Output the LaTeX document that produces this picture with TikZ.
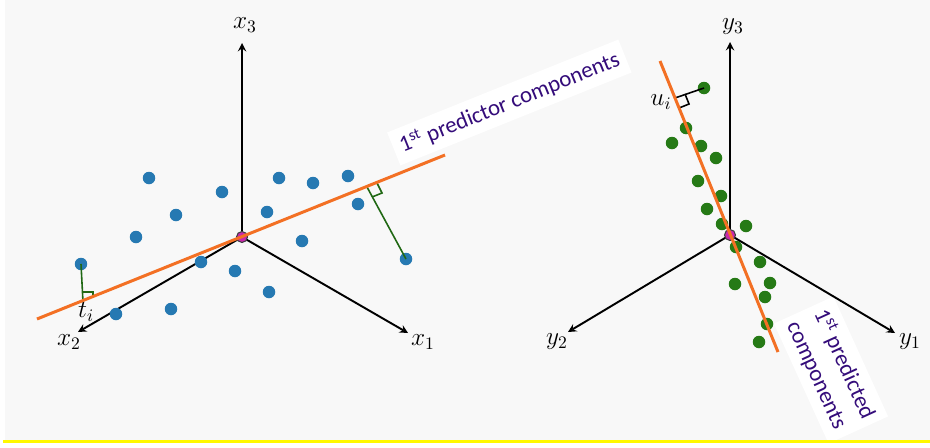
\documentclass[tikz,border=0pt]{standalone}
\usepackage{amsmath}
\usepackage{xcolor}
\usepackage{fontspec}
\usepackage{tikz}
\usetikzlibrary{calc, positioning}

\newfontfamily\labelfont{Carlito}

\definecolor{bggray}{RGB}{248,248,248}
\definecolor{pcablue}{RGB}{38,121,178}
\definecolor{pcagreen}{RGB}{38,122,22}
\definecolor{pcaorange}{RGB}{243,112,36}
\definecolor{labelink}{RGB}{52,12,122}
\definecolor{originpink}{RGB}{200,40,170}
\definecolor{hiyellow}{RGB}{255,248,0}

\tikzset{
  axisarrow/.style={->, line width=1.1pt},
  bdot/.style={circle, fill=pcablue, inner sep=0pt, minimum size=0.25cm},
  gdot/.style={circle, fill=pcagreen, inner sep=0pt, minimum size=0.25cm},
  odot/.style={circle, fill=originpink, draw=black!75, line width=0.6pt, inner sep=0pt, minimum size=0.22cm},
  pcline/.style={pcaorange, line width=1.7pt},
  projline/.style={pcagreen!85!black, line width=0.9pt},
  axlabel/.style={inner sep=1pt, font=\fontsize{14}{17}\selectfont},
  complabel/.style={fill=white, text=labelink, inner sep=4pt,
                    font=\labelfont\fontsize{13}{17}\selectfont}
}

\begin{document}
\begin{tikzpicture}[>=stealth, x=0.02cm, y=-0.02cm]

    % =================================================================
    % 0. NỀN
    % =================================================================
    \fill[white] (0,0) rectangle (930,447);
    \fill[bggray] (5,0) rectangle (930,440);
    \useasboundingbox (0,0) rectangle (930,447);

    % =================================================================
    % 1. HỆ TRỤC x1 x2 x3 (bên trái)
    % =================================================================
    \coordinate (O1) at (242,237);
    \coordinate (X1) at (408,333);
    \coordinate (X2) at (78,332);
    \coordinate (X3) at (242,43);
    \draw[axisarrow] (O1) -- (X1);
    \draw[axisarrow] (O1) -- (X2);
    \draw[axisarrow] (O1) -- (X3);
    \node[axlabel] (lx1) at (423,342) {$x_1$};
    \node[axlabel] (lx2) at (69,342) {$x_2$};
    \node[axlabel] (lx3) at (245,25) {$x_3$};

    % các điểm dữ liệu
    \foreach \px/\py [count=\k] in {149/178, 222/192, 279/178, 313/183, 348/176,
        176/215, 267/212, 358/204, 136/237, 302/241, 201/262, 235/271,
        269/292, 171/309, 116/314}
        \node[bdot] (b\k) at (\px,\py) {};
    \node[bdot] (bt) at (81,264) {};
    \node[bdot] (bf) at (406,259) {};

    % hình chiếu lên thành phần thứ nhất
    \coordinate (Ft) at (83,302);
    \coordinate (Ff) at (367,187);
    \draw[projline] (bt.center) -- (Ft);
    \draw[projline] (82,292) -- (93,292) -- (93,298);
    \draw[projline] (bf.center) -- (Ff);
    \draw[projline] (377,183) -- (382,193) -- (372,197);
    \node[axlabel] (lti) at (86,312) {$t_i$};

    % gốc và đường thành phần
    \node[odot] (o1) at (O1) {};
    \coordinate (P1a) at (37,319);
    \coordinate (P1b) at (445,155);
    \draw[pcline] (P1a) -- (P1b);
    \node[complabel, rotate=21.9, anchor=base] (predlbl) at (512,109)
        {1\textsuperscript{st} predictor components};

    % =================================================================
    % 2. HỆ TRỤC y1 y2 y3 (bên phải)
    % =================================================================
    \node[complabel, rotate=-65.5, align=left] (resplbl) at (831,370)
        {1\textsuperscript{st} predicted\\components};

    \coordinate (O2) at (730,235);
    \coordinate (Y1) at (895,333);
    \coordinate (Y2) at (568,332);
    \coordinate (Y3) at (730,42);
    \draw[axisarrow] (O2) -- (Y1);
    \draw[axisarrow] (O2) -- (Y2);
    \draw[axisarrow] (O2) -- (Y3);
    \node[axlabel] (ly1) at (910,342) {$y_1$};
    \node[axlabel] (ly2) at (557,342) {$y_2$};
    \node[axlabel] (ly3) at (733,27) {$y_3$};

    % các điểm dữ liệu
    \foreach \px/\py [count=\k] in {686/128, 672/143, 701/146, 716/158,
        698/181, 721/196, 707/209, 722/224, 746/226, 736/247, 760/262,
        735/284, 770/283, 765/297, 767/324, 759/342}
        \node[gdot] (g\k) at (\px,\py) {};
    \node[gdot] (gu) at (704,88) {};

    % hình chiếu u_i
    \coordinate (Fu) at (675,98);
    \draw[line width=0.9pt] (gu.center) -- (Fu);
    \draw[line width=0.9pt] (685,94) -- (689,104) -- (679,108);
    \node[axlabel] (lui) at (661,102) {$u_i$};

    % gốc và đường thành phần
    \node[odot] (o2) at (O2) {};
    \coordinate (P2a) at (660,61);
    \coordinate (P2b) at (778,352);
    \draw[pcline] (P2a) -- (P2b);

    % vạch vàng dưới cùng
    \fill[hiyellow] (3,440) rectangle (930,443);
    \fill[white] (3,443) rectangle (930,447);

\end{tikzpicture}
\end{document}
